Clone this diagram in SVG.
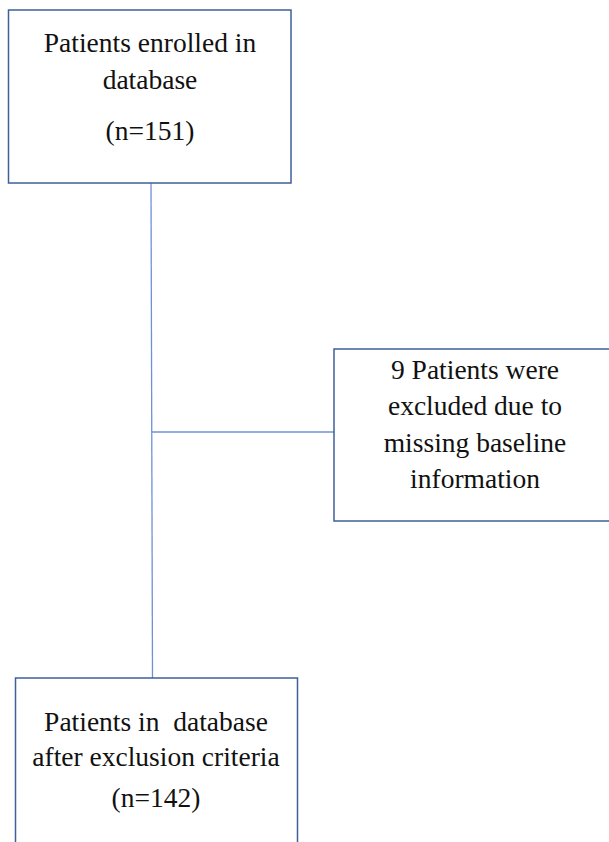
<svg xmlns="http://www.w3.org/2000/svg" width="609" height="842" viewBox="0 0 609 842">
<style>
.box{fill:#fff;stroke:#3F5F99;stroke-width:1.5}
.t{font-family:"Liberation Serif","Times New Roman",serif;font-size:27.5px;fill:#111;text-anchor:middle}
.c{stroke:#6F90D8;stroke-width:1.3;fill:none}
</style>
<rect width="609" height="842" fill="#fff"/>
<g id="connectors">
<line class="c" x1="151" y1="183" x2="152.5" y2="678"/>
<line class="c" x1="152" y1="432" x2="334" y2="432"/>
</g>
<g id="n1">
<rect class="box" x="8.5" y="10" width="282.5" height="173"/>
<text class="t" x="150" y="52">Patients enrolled in</text>
<text class="t" x="150" y="89">database</text>
<text class="t" x="150" y="140">(n=151)</text>
</g>
<g id="n2">
<rect class="box" x="334" y="349" width="276" height="172"/>
<text class="t" x="475" y="379">9 Patients were</text>
<text class="t" x="475" y="415">excluded due to</text>
<text class="t" x="475" y="452">missing baseline</text>
<text class="t" x="475" y="488">information</text>
</g>
<g id="n3">
<rect class="box" x="15.5" y="678" width="282" height="170"/>
<text class="t" x="156" y="731" xml:space="preserve">Patients in  database</text>
<text class="t" x="156" y="766">after exclusion criteria</text>
<text class="t" x="156" y="807">(n=142)</text>
</g>
</svg>
